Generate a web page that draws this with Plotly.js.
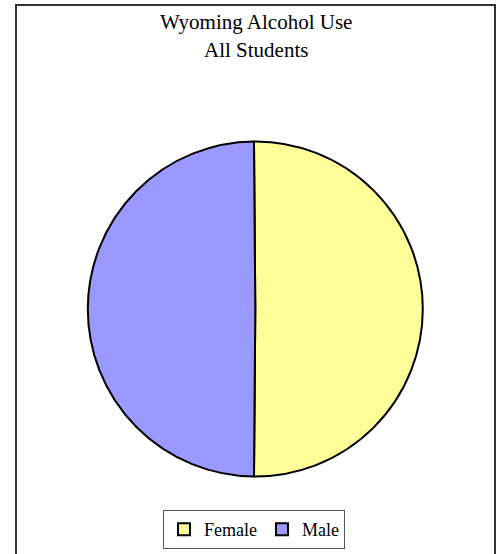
<!DOCTYPE html>
<html>
<head>
<meta charset="utf-8">
<script src="https://cdn.plot.ly/plotly-3.0.1.min.js"></script>
<style>
html,body{margin:0;padding:0;background:#fff;}
#chart{width:500px;height:554px;}
</style>
</head>
<body>
<div id="chart"></div>
<script>
// Data
const categories = ["Female", "Male"];
const shares = [50.25, 49.75];
const sliceColors = ["#FFFF99", "#9999FF"];
const titleLines = ["Wyoming Alcohol Use", "All Students"];

const W = 500, H = 554;
const cx = 255.3, cy = 309, r = 167.5;
const px = x => x / W;
const py = y => 1 - y / H;

const serif = "Liberation Serif, Times New Roman, serif";
const total = shares.reduce((a, b) => a + b, 0);
// centre the first slice on 3 o'clock, as in the reference
const startRotation = -(shares[0] / total - 0.5) * 180;

const trace = {
  type: "pie",
  labels: categories,
  values: shares,
  sort: false,
  direction: "clockwise",
  rotation: startRotation,
  textinfo: "none",
  hoverinfo: "label+percent",
  marker: { colors: sliceColors, line: { color: "#000000", width: 2 } },
  domain: { x: [px(cx - r), px(cx + r)], y: [py(cy + r), py(cy - r)] }
};

const layout = {
  width: W, height: H,
  margin: { l: 0, r: 0, t: 0, b: 0 },
  paper_bgcolor: "#ffffff",
  showlegend: true,
  legend: {
    orientation: "h",
    x: px(254), xanchor: "center",
    y: py(549), yanchor: "bottom",
    bgcolor: "#ffffff",
    bordercolor: "#555555",
    borderwidth: 1,
    itemwidth: 30,
    font: { family: serif, size: 18, color: "#000000" },
    tracegroupgap: 0
  },
  annotations: titleLines.map((t, i) => ({
    text: t, showarrow: false,
    xref: "paper", yref: "paper",
    x: px(256), y: py(i === 0 ? 22 : 50),
    xanchor: "center", yanchor: "middle",
    font: { family: serif, size: 21, color: "#000000" }
  })),
  shapes: [{
    type: "rect", xref: "paper", yref: "paper",
    x0: px(16), x1: px(495), y0: py(560), y1: py(5),
    line: { color: "#333333", width: 2 }, fillcolor: "rgba(0,0,0,0)"
  }]
};

Plotly.newPlot("chart", [trace], layout, { displayModeBar: false, staticPlot: true });
</script>
</body>
</html>
